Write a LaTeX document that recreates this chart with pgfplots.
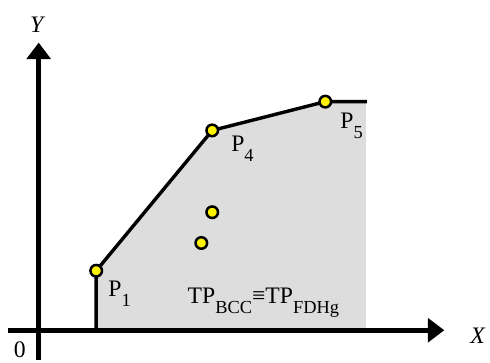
\documentclass[border=0pt]{standalone}
\usepackage{pgfplots}
\pgfplotsset{compat=1.18}
\usepackage{fontspec}
\setmainfont{Liberation Serif}
\usetikzlibrary{arrows.meta}
\definecolor{regiongray}{RGB}{221,221,221}
\newcommand{\bigtext}{\fontsize{18}{21}\selectfont}
\newcommand{\sub}[1]{\raisebox{-7.5pt}{\fontsize{14}{16}\selectfont #1}}
\begin{document}
\begin{tikzpicture}
\begin{axis}[
  scale only axis,
  width=13cm, height=9.6306cm,
  xmin=0, xmax=490, ymin=0, ymax=363,
  axis lines=none,
  clip=false,
]
% invisible frame for the page size
\path (axis cs:0,0) rectangle (axis cs:490,363);
% feasible region
\addplot[fill=regiongray, draw=none] coordinates {
  (97,30) (97,90) (214,231.5) (328,260.5) (369,260.5) (369,30)} -- cycle;
% coordinate axes
\draw[line width=3.5pt, -{Triangle[length=12.5pt,width=18pt]}] (axis cs:39,0) -- (axis cs:39,320);
\draw[line width=3.5pt, -{Triangle[length=12.5pt,width=18pt]}] (axis cs:8,30) -- (axis cs:448,30);
% frontier
\addplot[black, line width=2.6pt] coordinates {
  (97,30) (97,90) (214,231.5) (328,260.5) (370,260.5)};
% units
\addplot[only marks, mark=*, mark size=4.4pt,
  mark options={fill=yellow, draw=black, line width=1.9pt}] coordinates {
  (97,90) (214,231.5) (328,260.5) (214,149) (203,118)};
% labels
\node[font=\bigtext] at (axis cs:38,338) {\textit{Y}};
\node[font=\bigtext] at (axis cs:482,24) {\textit{X}};
\node[font=\bigtext] at (axis cs:20,10) {0};
\node[anchor=base west, inner sep=0pt, font=\bigtext] at (axis cs:109,64) {P\sub{1}};
\node[anchor=base west, inner sep=0pt, font=\bigtext] at (axis cs:233,210.5) {P\sub{4}};
\node[anchor=base west, inner sep=0pt, font=\bigtext] at (axis cs:343,233) {P\sub{5}};
\node[anchor=base west, inner sep=0pt, font=\bigtext] at (axis cs:189,56.5) {TP\sub{BCC}≡TP\sub{FDHg}};
\end{axis}
\end{tikzpicture}
\end{document}
